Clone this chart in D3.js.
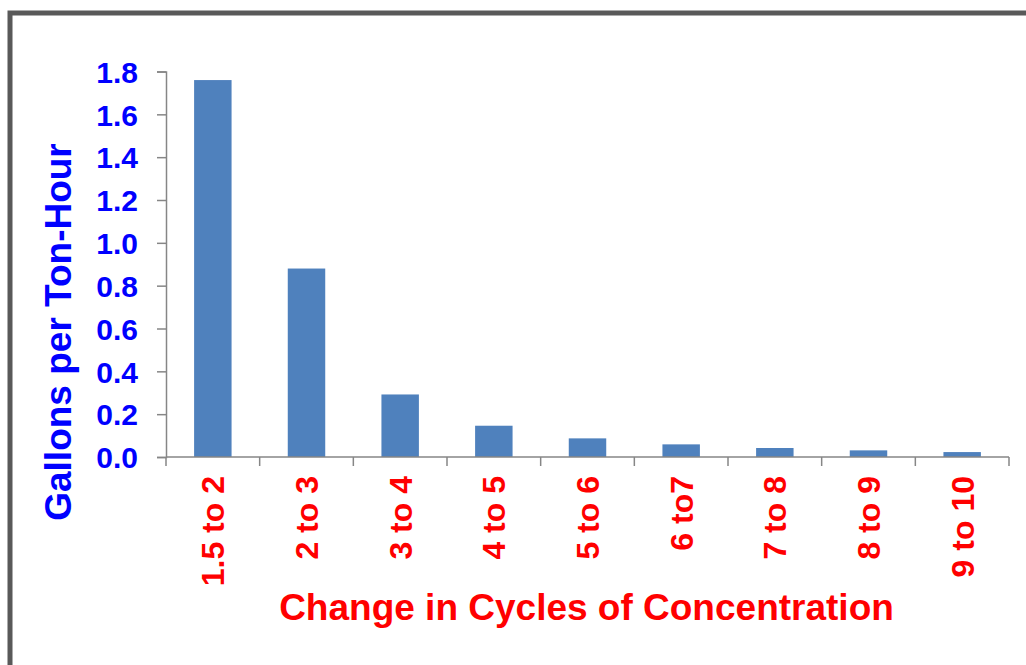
<!DOCTYPE html>
<html>
<head>
<meta charset="utf-8">
<script src="https://cdn.jsdelivr.net/npm/d3@7"></script>
<style>
  html, body { margin: 0; padding: 0; background: #fff; }
  svg { display: block; }
  text { font-family: "Liberation Sans", Arial, sans-serif; font-weight: bold; }
</style>
</head>
<body>
<svg id="chart" width="1026" height="665"></svg>
<script>
const categories = ["1.5 to 2", "2 to 3", "3 to 4", "4 to 5", "5 to 6", "6 to7", "7 to 8", "8 to 9", "9 to 10"];
const values = [1.76, 0.88, 0.292, 0.146, 0.087, 0.059, 0.042, 0.031, 0.023];
const yTicks = [0, 0.2, 0.4, 0.6, 0.8, 1.0, 1.2, 1.4, 1.6, 1.8];
const yTitle = "Gallons per Ton-Hour";
const xTitle = "Change in Cycles of Concentration";

const svg = d3.select("#chart");

// outer frame
svg.append("rect")
  .attr("x", 10).attr("y", 13)
  .attr("width", 1100).attr("height", 700)
  .attr("fill", "#fff")
  .attr("stroke", "#595959").attr("stroke-width", 5);

const plotLeft = 166, plotRight = 1009, plotTop = 71.5, plotBottom = 457;

const x = d3.scaleBand().domain(categories).range([plotLeft, plotRight]).paddingInner(0).paddingOuter(0);
const y = d3.scaleLinear().domain([0, 1.8]).range([plotBottom, plotTop]);

const axisColor = "#868686";

// bars
const barW = x.bandwidth() * 0.4;
svg.append("g").selectAll("rect")
  .data(values)
  .join("rect")
  .attr("x", (d, i) => x(categories[i]) + (x.bandwidth() - barW) / 2)
  .attr("y", d => y(d))
  .attr("width", barW)
  .attr("height", d => y(0) - y(d))
  .attr("fill", "#4F81BD");

// y axis
const yAxis = svg.append("g")
  .attr("transform", `translate(${plotLeft},0)`)
  .call(d3.axisLeft(y).tickValues(yTicks).tickFormat(d3.format(".1f")).tickSize(9).tickPadding(19));
yAxis.select(".domain").attr("stroke", axisColor).attr("stroke-width", 1.5);
yAxis.selectAll(".tick line").attr("stroke", axisColor).attr("stroke-width", 1.5);
yAxis.selectAll(".tick text")
  .attr("fill", "#0000FF")
  .style("font-size", "30px")
  .style("font-family", "'Liberation Sans', Arial, sans-serif")
  .style("font-weight", "bold")
  .attr("dy", "0.36em");

// x axis line and ticks at category boundaries
const xg = svg.append("g");
xg.append("line")
  .attr("x1", plotLeft).attr("x2", plotRight)
  .attr("y1", y(0)).attr("y2", y(0))
  .attr("stroke", axisColor).attr("stroke-width", 1.5);
const boundaries = categories.map(c => x(c)).concat([x(categories[categories.length - 1]) + x.bandwidth()]);
xg.selectAll("line.tk")
  .data(boundaries)
  .join("line")
  .attr("class", "tk")
  .attr("x1", d => d).attr("x2", d => d)
  .attr("y1", y(0)).attr("y2", y(0) + 9)
  .attr("stroke", axisColor).attr("stroke-width", 1.5);

// x labels rotated
xg.selectAll("text.xl")
  .data(categories)
  .join("text")
  .attr("class", "xl")
  .attr("transform", d => `translate(${x(d) + x.bandwidth() / 2},476) rotate(-90)`)
  .attr("text-anchor", "end")
  .attr("dy", "0.36em")
  .attr("fill", "#FF0000")
  .style("font-size", "32px")
  .text(d => d);

// y title
svg.append("text")
  .attr("transform", `translate(71,332) rotate(-90)`)
  .attr("text-anchor", "middle")
  .attr("fill", "#0000FF")
  .style("font-size", "37px")
  .text(yTitle);

// x title
svg.append("text")
  .attr("x", 586.5).attr("y", 620)
  .attr("text-anchor", "middle")
  .attr("fill", "#FF0000")
  .style("font-size", "37px")
  .text(xTitle);
</script>
</body>
</html>
